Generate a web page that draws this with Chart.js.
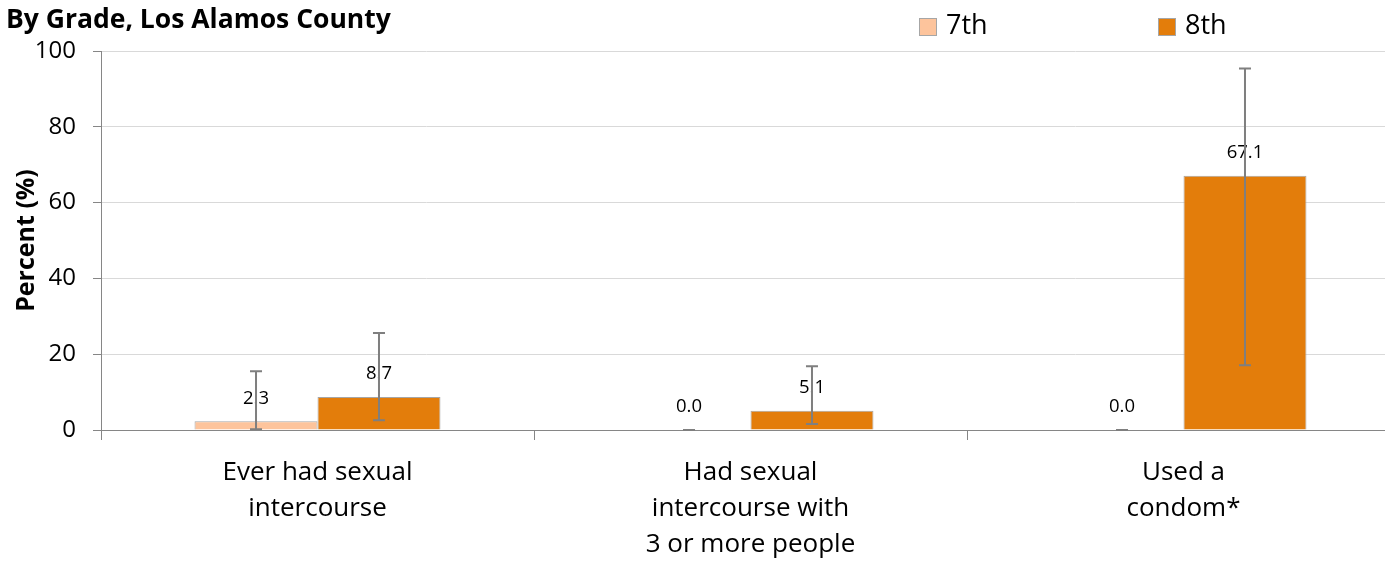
<!DOCTYPE html>
<html>
<head>
<meta charset="utf-8">
<script src="https://cdn.jsdelivr.net/npm/chart.js@4"></script>
<style>
  html, body { margin: 0; padding: 0; background: #fff; overflow: hidden; }
  #wrap { width: 1402px; height: 565px; position: relative; }
</style>
</head>
<body>
<div id="wrap"><canvas id="gradeChart"></canvas></div>
<script>
const categories = [
  ["Ever had sexual", "intercourse"],
  ["Had sexual", "intercourse with", "3 or more people"],
  ["Used a", "condom*"]
];
const seriesNames = ["7th", "8th"];
const grade7 = [2.3, 0.0, 0.0];
const grade8 = [8.7, 5.1, 67.1];
const grade7Low = [0.2, 0.0, 0.0];
const grade7High = [15.5, 0.0, 0.0];
const grade8Low = [2.6, 1.6, 17.1];
const grade8High = [25.6, 16.8, 95.4];
const yTicks = [0, 20, 40, 60, 80, 100];

const FONT = "'Open Sans', 'Liberation Sans', sans-serif";

// error bars + value labels drawn on top of the bars
const barExtras = {
  id: "barExtras",
  afterDatasetsDraw(chart) {
    const ctx = chart.ctx;
    const y = chart.scales.y;
    const lows = [grade7Low, grade8Low];
    const highs = [grade7High, grade8High];

    ctx.save();
    ctx.font = "18.5px " + FONT;
    ctx.fillStyle = "#000";
    ctx.textAlign = "center";
    ctx.textBaseline = "middle";
    chart.data.datasets.forEach((ds, i) => {
      chart.getDatasetMeta(i).data.forEach((bar, j) => {
        ctx.fillText(ds.data[j].toFixed(1), bar.x, bar.y - 23);
      });
    });

    ctx.strokeStyle = "#7f7f7f";
    ctx.lineWidth = 2;
    chart.data.datasets.forEach((ds, i) => {
      chart.getDatasetMeta(i).data.forEach((bar, j) => {
        const top = y.getPixelForValue(highs[i][j]);
        const bot = y.getPixelForValue(lows[i][j]);
        ctx.beginPath();
        ctx.moveTo(bar.x, top);
        ctx.lineTo(bar.x, bot);
        ctx.moveTo(bar.x - 6, top);
        ctx.lineTo(bar.x + 6, top);
        ctx.moveTo(bar.x - 6, bot);
        ctx.lineTo(bar.x + 6, bot);
        ctx.stroke();
      });
    });
    ctx.restore();
  }
};

// title top-left and legend top-right
const headerBits = {
  id: "headerBits",
  afterDraw(chart) {
    const ctx = chart.ctx;
    ctx.save();
    ctx.font = "bold 26.5px " + FONT;
    ctx.fillStyle = "#000";
    ctx.textBaseline = "middle";
    ctx.fillText("By Grade, Los Alamos County", 6, 20);

    const legendX = [919, 1158];
    ctx.font = "27px " + FONT;
    chart.data.datasets.forEach((ds, i) => {
      ctx.fillStyle = ds.backgroundColor;
      ctx.fillRect(legendX[i], 18, 17, 17);
      ctx.strokeStyle = "#a6a6a6";
      ctx.lineWidth = 1;
      ctx.strokeRect(legendX[i] + 0.5, 18.5, 17, 17);
      ctx.fillStyle = "#000";
      ctx.fillText(ds.label, legendX[i] + 27, 26);
    });
    ctx.restore();
  }
};

new Chart(document.getElementById("gradeChart"), {
  type: "bar",
  data: {
    labels: categories,
    datasets: [
      {
        label: seriesNames[0],
        data: grade7,
        backgroundColor: "#fdc49c",
        borderColor: "#a6a6a6",
        borderWidth: 1
      },
      {
        label: seriesNames[1],
        data: grade8,
        backgroundColor: "#e37d0b",
        borderColor: "#a6a6a6",
        borderWidth: 1
      }
    ]
  },
  options: {
    responsive: true,
    maintainAspectRatio: false,
    animation: false,
    layout: {
      padding: { top: 51, right: 2, bottom: 0, left: 0 }
    },
    datasets: {
      bar: {
        categoryPercentage: 0.568,
        barPercentage: 1
      }
    },
    plugins: {
      legend: { display: false },
      title: { display: false },
      tooltip: { enabled: false }
    },
    scales: {
      x: {
        grid: {
          display: true,
          drawOnChartArea: false,
          offset: true,
          color: "#868686",
          tickLength: 10
        },
        border: { color: "#868686", width: 1 },
        ticks: {
          color: "#000",
          font: { family: FONT, size: 26, lineHeight: 1.38 },
          padding: 15,
          maxRotation: 0
        },
        afterFit(scale) { scale.height = 135; }
      },
      y: {
        min: 0,
        max: 100,
        afterBuildTicks(scale) {
          scale.ticks = yTicks.map(v => ({ value: v }));
        },
        grid: {
          color: "#d9d9d9",
          tickColor: "#868686",
          tickLength: 8
        },
        border: { color: "#868686", width: 1 },
        ticks: {
          color: "#000",
          font: { family: FONT, size: 24 },
          padding: 17
        },
        title: {
          display: true,
          text: "Percent (%)",
          color: "#000",
          font: { family: FONT, size: 25, weight: "bold" },
          padding: { top: 12, bottom: 0 }
        },
        afterFit(scale) { scale.width = 101; }
      }
    }
  },
  plugins: [barExtras, headerBits]
});
</script>
</body>
</html>
